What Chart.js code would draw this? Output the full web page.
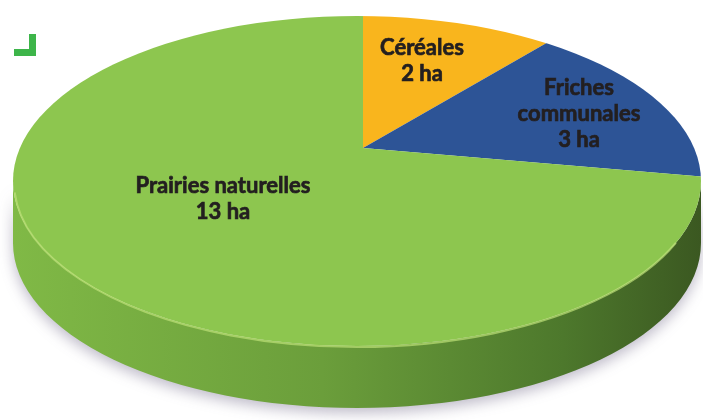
<!DOCTYPE html>
<html>
<head>
<meta charset="utf-8">
<script src="https://cdn.jsdelivr.net/npm/chart.js@4"></script>
<style>
  html, body { margin: 0; padding: 0; background: #fff; }
  #wrap { position: relative; width: 703px; height: 420px; }
  .mark-v { position: absolute; left: 29px; top: 34px; width: 7px; height: 22px; background: #3db54a; }
  .mark-h { position: absolute; left: 14px; top: 49px; width: 22px; height: 7px; background: #3db54a; }
</style>
</head>
<body>
<div id="wrap">
  <canvas id="pie" width="703" height="420"></canvas>
  <div class="mark-v"></div>
  <div class="mark-h"></div>
</div>
<script>
document.addEventListener('DOMContentLoaded', () => {
  // surfaces en hectares, dans l'ordre du tracé (sens horaire depuis le haut)
  const categories = ['Céréales', 'Friches communales', 'Prairies naturelles'];
  const hectares = [2, 3, 13];
  const labelLines = [['Céréales', '2 ha'], ['Friches', 'communales', '3 ha'], ['Prairies naturelles', '13 ha']];

  const topColors = ['#f9b51d', '#2d5496', '#8dc64f'];
  const sideColors = ['#c98f12', '#1f3c6e', '#6a9e3a'];

  // disque vu en perspective : contour elliptique, sommet des parts décalé vers le haut
  const disc = { x: 357, y: 181, a: 344, b: 165, depth: 62, apexX: 363, apexY: 148, rx: 440, squash: 0.48 };
  // où poser les étiquettes
  const labelPos = [[422, 48, 26], [579, 88, 26], [223, 186, 26]];

  // angle paramétrique sur l'ellipse atteint par le rayon d'une part
  function rimAngle(phi) {
    const dx = disc.rx * Math.cos(phi), dy = disc.rx * disc.squash * Math.sin(phi);
    const px = (disc.apexX - disc.x) / disc.a, py = (disc.apexY - disc.y) / disc.b;
    const ux = dx / disc.a, uy = dy / disc.b;
    const A = ux * ux + uy * uy, B = 2 * (px * ux + py * uy), C = px * px + py * py - 1;
    const t = (-B + Math.sqrt(B * B - 4 * A * C)) / (2 * A);
    return Math.atan2(py + t * uy, px + t * ux);
  }

  const pie3d = {
    id: 'pie3d',
    beforeDatasetsDraw(chart) {
      const ctx = chart.ctx;
      const meta = chart.getDatasetMeta(0);
      const arc0 = meta.data[0];
      // face latérale, seulement la moitié avant (0..PI)
      ctx.save();
      meta.data.forEach((arc, i) => {
        let s = rimAngle(arc.startAngle);
        let e = rimAngle(arc.endAngle);
        while (e <= s) e += 2 * Math.PI;
        const ranges = [[s, e], [s - 2 * Math.PI, e - 2 * Math.PI]];
        ranges.forEach(([r1, r2]) => {
          const a1 = Math.max(r1, 0), a2 = Math.min(r2, Math.PI);
          if (a2 <= a1) return;
          const g = ctx.createLinearGradient(disc.x - disc.a, 0, disc.x + disc.a, 0);
          if (i === 2) {
            g.addColorStop(0, '#80b946');
            g.addColorStop(0.45, '#6b9e3b');
            g.addColorStop(0.8, '#4d782c');
            g.addColorStop(1, '#3b5821');
          } else {
            g.addColorStop(0, sideColors[i]);
            g.addColorStop(1, sideColors[i]);
          }
          ctx.beginPath();
          ctx.ellipse(disc.x, disc.y, disc.a, disc.b, 0, a1, a2);
          ctx.ellipse(disc.x, disc.y + disc.depth, disc.a, disc.b, 0, a2, a1, true);
          ctx.closePath();
          ctx.shadowColor = 'rgba(70,60,100,0.35)';
          ctx.shadowBlur = 14;
          ctx.shadowOffsetY = 5;
          ctx.fillStyle = g;
          ctx.fill();
        });
      });
      ctx.restore();

      // face supérieure : cercle de Chart.js écrasé autour du sommet, découpé par l'ellipse
      ctx.save();
      ctx.beginPath();
      ctx.ellipse(disc.x, disc.y, disc.a, disc.b, 0, 0, 2 * Math.PI);
      ctx.clip();
      const k = disc.rx / arc0.outerRadius;
      ctx.translate(disc.apexX, disc.apexY);
      ctx.scale(k, k * disc.squash);
      ctx.translate(-arc0.x, -arc0.y);
    },
    afterDatasetsDraw(chart) {
      const ctx = chart.ctx;
      ctx.restore();
      // léger reflet sur l'arête avant
      ctx.save();
      ctx.beginPath();
      ctx.ellipse(disc.x, disc.y + 1, disc.a - 1, disc.b, 0, 0.12 * Math.PI, 0.98 * Math.PI);
      ctx.strokeStyle = 'rgba(190,225,120,0.7)';
      ctx.lineWidth = 2;
      ctx.stroke();
      ctx.restore();

      // étiquettes
      ctx.save();
      ctx.font = 'bold 22px Lato, sans-serif';
      ctx.fillStyle = '#231f20';
      ctx.strokeStyle = '#231f20';
      ctx.lineWidth = 0.7;
      ctx.textAlign = 'center';
      ctx.textBaseline = 'middle';
      labelLines.forEach((lines, i) => {
        const [lx, ly, lh] = labelPos[i];
        lines.forEach((t, k) => {
          ctx.fillText(t, lx, ly + k * lh);
          ctx.strokeText(t, lx, ly + k * lh);
        });
      });
      ctx.restore();
    }
  };

  new Chart(document.getElementById('pie'), {
    type: 'pie',
    data: {
      labels: categories,
      datasets: [{
        data: hectares,
        backgroundColor: topColors,
        borderWidth: 0
      }]
    },
    options: {
      responsive: false,
      animation: false,
      plugins: {
        legend: { display: false },
        tooltip: { enabled: false }
      }
    },
    plugins: [pie3d]
  });
});
</script>
</body>
</html>
